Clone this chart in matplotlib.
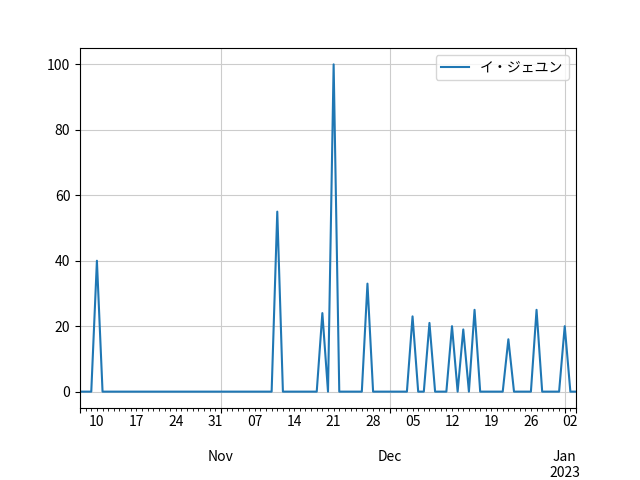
import pandas as pd
import matplotlib
matplotlib.use('Agg')
import matplotlib.pyplot as plt

plt.rcParams['font.family'] = ['Noto Sans CJK JP', 'DejaVu Sans']

# Daily series, mostly zero with a few spikes
start = '2022-10-07'
end = '2023-01-03'
spike_dates = [
    '2022-10-10', '2022-11-11', '2022-11-19', '2022-11-21', '2022-11-27',
    '2022-12-05', '2022-12-08', '2022-12-12', '2022-12-14', '2022-12-16',
    '2022-12-22', '2022-12-27', '2023-01-01',
]
spike_values = [40, 55, 24, 100, 33, 23, 21, 20, 19, 25, 16, 25, 20]

idx = pd.date_range(start, end, freq='D')
s = pd.Series(0, index=idx, name='イ・ジェユン')
s.loc[pd.to_datetime(spike_dates)] = spike_values

fig, ax = plt.subplots(figsize=(6.4, 4.8), dpi=100)
fig.subplots_adjust(left=0.125, right=0.9, bottom=0.15, top=0.9)
s.plot(ax=ax, grid=True, legend=True)
ax.grid(True, which='major', color='#cccccc')
ax.set_xlabel('')
plt.savefig('out.png')
